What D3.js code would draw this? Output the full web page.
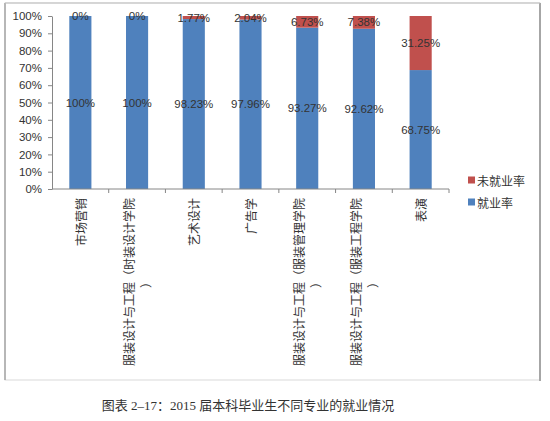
<!DOCTYPE html>
<html lang="zh">
<head>
    <meta charset="utf-8" />
    <title>2015 届本科毕业生不同专业的就业情况</title>
    <script src="https://cdn.jsdelivr.net/npm/d3@7"></script>
    <style>
        body { margin: 0; background: #fff; }
        text { font-family: "Liberation Sans", "Noto Sans CJK SC", sans-serif; fill: #333; }
    </style>
</head>
<body>
    <div id="chart"></div>
    <script>
        // categories (\n = line break in the axis label)
        var categories = [
            "市场营销",
            "服装设计与工程（时装设计学院\n）",
            "艺术设计",
            "广告学",
            "服装设计与工程（服装管理学院\n）",
            "服装设计与工程（服装工程学院\n）",
            "表演"
        ];
        var employed = [100, 100, 98.23, 97.96, 93.27, 92.62, 68.75];
        var unemployed = [0, 0, 1.77, 2.04, 6.73, 7.38, 31.25];
        var employedLabels = ["100%", "100%", "98.23%", "97.96%", "93.27%", "92.62%", "68.75%"];
        var unemployedLabels = ["0%", "0%", "1.77%", "2.04%", "6.73%", "7.38%", "31.25%"];
        var yTicks = [0, 10, 20, 30, 40, 50, 60, 70, 80, 90, 100];
        var seriesNames = ["未就业率", "就业率"];
        var seriesColors = ["#C0504D", "#4F81BD"];
        var caption = "图表 2–17：2015 届本科毕业生不同专业的就业情况";

        var width = 550, height = 421;

        var svg = d3.select("#chart")
            .append("svg")
            .attr("width", width)
            .attr("height", height);

        // chart frame
        svg.append("rect").attr("x", 5).attr("y", 3).attr("width", 535).attr("height", 377)
            .attr("fill", "#fff").attr("stroke", "#d9d9d9");
        svg.append("line").attr("x1", 5).attr("x2", 5).attr("y1", 3).attr("y2", 380)
            .attr("stroke", "#a6a6a6").attr("stroke-width", 1.5);
        svg.append("line").attr("x1", 540).attr("x2", 540).attr("y1", 3).attr("y2", 381)
            .attr("stroke", "#a6a6a6").attr("stroke-width", 2);
        svg.append("line").attr("x1", 5).attr("x2", 540).attr("y1", 3).attr("y2", 3)
            .attr("stroke", "#bfbfbf");

        var x = d3.scaleBand()
            .domain(categories)
            .range([52, 449])
            .paddingInner(0.61)
            .paddingOuter(0.305);

        var y = d3.scaleLinear()
            .domain([0, 100])
            .range([189, 16]);

        // y axis
        var yAxis = svg.append("g")
            .attr("transform", "translate(52,0)")
            .call(d3.axisLeft(y).tickValues(yTicks).tickFormat(function (d) { return d + "%"; })
                .tickSize(4).tickSizeOuter(0).tickPadding(6));
        yAxis.select(".domain").attr("stroke", "#868686");
        yAxis.selectAll(".tick line").attr("stroke", "#868686");
        yAxis.selectAll(".tick text").style("font-size", "11.5px").attr("fill", "#333");

        // bars
        var idx = d3.range(categories.length);
        svg.selectAll(".bar-emp").data(idx).enter().append("rect")
            .attr("class", "bar-emp")
            .attr("x", function (i) { return x(categories[i]); })
            .attr("width", x.bandwidth())
            .attr("y", function (i) { return y(employed[i]); })
            .attr("height", function (i) { return y(0) - y(employed[i]); })
            .attr("fill", seriesColors[1]);
        svg.selectAll(".bar-unemp").data(idx).enter().append("rect")
            .attr("class", "bar-unemp")
            .attr("x", function (i) { return x(categories[i]); })
            .attr("width", x.bandwidth())
            .attr("y", function (i) { return y(employed[i] + unemployed[i]); })
            .attr("height", function (i) { return y(employed[i]) - y(employed[i] + unemployed[i]); })
            .attr("fill", seriesColors[0]);

        // x axis line + ticks on band boundaries
        svg.append("line").attr("x1", 52).attr("x2", 449).attr("y1", y(0)).attr("y2", y(0))
            .attr("stroke", "#868686");
        svg.selectAll(".xtick").data(categories).enter().append("line")
            .attr("class", "xtick")
            .attr("x1", function (c) { return x(c) + x.bandwidth() / 2 + x.step() / 2; })
            .attr("x2", function (c) { return x(c) + x.bandwidth() / 2 + x.step() / 2; })
            .attr("y1", y(0)).attr("y2", y(0) + 4)
            .attr("stroke", "#868686");

        // data labels
        svg.selectAll(".lab-emp").data(idx).enter().append("text")
            .attr("x", function (i) { return x(categories[i]) + x.bandwidth() / 2; })
            .attr("y", function (i) { return (y(0) + y(employed[i])) / 2; })
            .attr("text-anchor", "middle")
            .attr("dominant-baseline", "central")
            .style("font-size", "11.5px")
            .text(function (i) { return employedLabels[i]; });
        svg.selectAll(".lab-unemp").data(idx).enter().append("text")
            .attr("x", function (i) { return x(categories[i]) + x.bandwidth() / 2; })
            .attr("y", function (i) { return (y(employed[i]) + y(employed[i] + unemployed[i])) / 2; })
            .attr("text-anchor", "middle")
            .attr("dominant-baseline", "central")
            .style("font-size", "11.5px")
            .text(function (i) { return unemployedLabels[i]; });

        // rotated category labels
        var lineH = 17;
        categories.forEach(function (c) {
            var lines = c.split("\n");
            var g = svg.append("g")
                .attr("transform", "translate(" + (x(c) + x.bandwidth() / 2) + "," + (y(0) + 9) + ") rotate(-90)");
            var texts = lines.map(function (s, i) {
                return g.append("text")
                    .attr("y", (i - (lines.length - 1) / 2) * lineH)
                    .attr("text-anchor", "middle")
                    .attr("dominant-baseline", "central")
                    .style("font-size", "12px")
                    .style("font-family", "'Noto Sans CJK SC', sans-serif")
                    .text(s);
            });
            var maxLen = d3.max(texts, function (t) { return t.node().getComputedTextLength(); });
            texts.forEach(function (t) { t.attr("x", -maxLen / 2); });
        });

        // legend
        var legend = svg.selectAll(".legend").data(seriesNames).enter().append("g")
            .attr("transform", function (d, i) { return "translate(468," + (180 + i * 22) + ")"; });
        legend.append("rect").attr("x", 0).attr("y", -3.5).attr("width", 7).attr("height", 7)
            .attr("fill", function (d, i) { return seriesColors[i]; });
        legend.append("text").attr("x", 9).attr("dominant-baseline", "central")
            .style("font-size", "12px")
            .style("font-family", "'Noto Sans CJK SC', sans-serif")
            .text(function (d) { return d; });

        // caption under the frame
        svg.append("text")
            .attr("x", 248).attr("y", 410)
            .attr("text-anchor", "middle")
            .style("font-size", "13px")
            .style("font-family", "'Liberation Serif', 'Noto Sans CJK SC', serif")
            .attr("fill", "#222")
            .text(caption);
    </script>
</body>
</html>
